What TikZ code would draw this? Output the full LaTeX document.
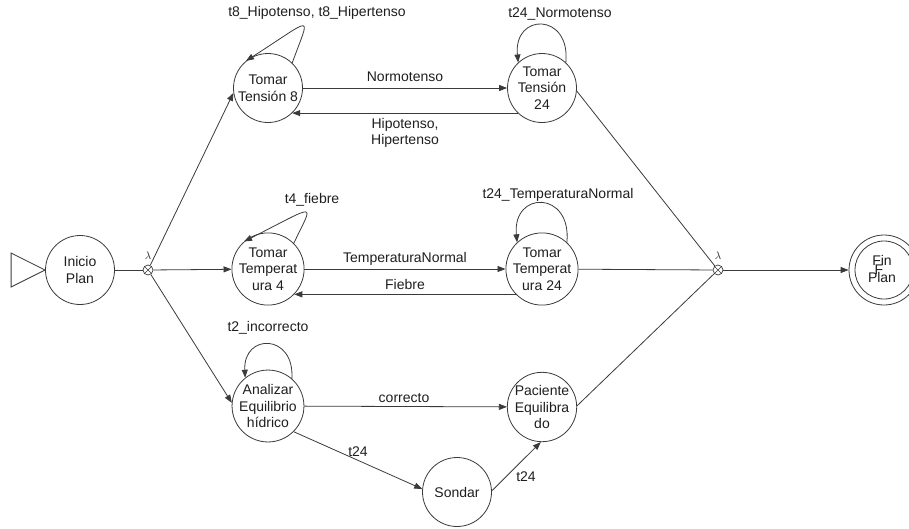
\documentclass[tikz,border=0pt]{standalone}
\usepackage{fontspec}
\setmainfont{Liberation Sans}
\usetikzlibrary{arrows.meta,calc}
\definecolor{linegray}{HTML}{3A3A3A}
\definecolor{inkgray}{HTML}{1E1E1E}
\newcommand\lbltxt{\fontsize{14}{16.5}\selectfont}

\begin{document}
\begin{tikzpicture}[x=1pt,y=-1pt,
  line/.style={draw=linegray,line width=0.8pt},
  arr/.style={line,-{Triangle[length=8pt,width=6pt]}},
  state/.style={circle,draw=linegray,line width=0.8pt,minimum size=69pt,
    inner sep=0pt,align=center,font=\lbltxt,text=inkgray},
  junc/.style={circle,draw=linegray,line width=0.7pt,minimum size=10pt,inner sep=0pt},
  lam/.style={font=\fontsize{11}{11}\selectfont,text=inkgray,inner sep=0pt},
  lbl/.style={font=\lbltxt,text=inkgray,align=center,inner sep=0pt}]
\useasboundingbox (0,0) rectangle (909,528);

% states
\node[state] (ini) at (80,270) {Inicio\\Plan};
\node[state] (t8) at (268,88) {Tomar\\Tensión 8};
\node[state] (t24) at (542,88) {Tomar\\Tensión\\24};
\node[state] (tp4) at (268,269) {Tomar\\Temperat\\ura 4};
\node[state] (tp24) at (542,269) {Tomar\\Temperat\\ura 24};
\node[state] (an) at (268,406) {Analizar\\Equilibrio\\hídrico};
\node[state] (pac) at (542,407) {Paciente\\Equilibra\\do};
\node[state] (son) at (457,492) {Sondar};
\node[state,minimum size=70pt] (fin) at (884,270) {};
\draw[line] (fin.center) circle[radius=29];
\node[lbl] (fintxt) at (882,269) {Fin\\Plan};
\node[lbl] (finmark) at (879,270) {F};

% start marker
\draw[line] (ini.west) -- ++(-34,-17) -- ++(0,34) -- cycle;

% junctions
\node[junc] (j1) at (148,270) {};
\draw[line,line width=0.6pt] (j1.45) -- (j1.225) (j1.135) -- (j1.315);
\node[lam] (l1) at (148,256) {$\lambda$};
\node[junc] (j2) at (718,270) {};
\draw[line,line width=0.6pt] (j2.45) -- (j2.225) (j2.135) -- (j2.315);
\node[lam] (l2) at (718,256) {$\lambda$};

% connectors
\draw[line] (ini) -- (j1);
\draw[arr] (j1) -- (t8.188);
\draw[arr] (j1) -- (tp4);
\draw[arr] (j1) -- (an.175);

\draw[arr] (t8) -- (t24);
\draw[arr] (t24.226) -- (t8.314);
\draw[arr] (tp4) -- (tp24);
\draw[arr] (tp24.224) -- (tp4.316);
\draw[arr] (an) -- (pac);
\draw[arr] (an.315) -- (son.175);
\draw[arr] (son.2) -- (pac.268);

\draw[line] (t24.355) -- (j2);
\draw[line] (tp24) -- (j2);
\draw[line] (pac.2) -- (j2);
\draw[arr] (j2) -- (fin);

% self loops
\draw[arr] (t8.46) .. controls +(18,-50) and +(70,-45) .. (t8.129);
\draw[arr] (tp4.45) .. controls +(20,-42) and +(75,-38) .. (tp4.131);
\draw[arr] (t24.47) .. controls +(5,-50) and +(-5,-50) .. (t24.133);
\draw[arr] (tp24.47) .. controls +(5,-52) and +(-5,-52) .. (tp24.133);
\draw[arr] (an.49) .. controls +(3,-45) and +(-2,-45) .. (an.129);

% labels
\node[lbl] (lb1) at (317,13) {t8\_Hipotenso, t8\_Hipertenso};
\node[lbl] (lb2) at (560,14) {t24\_Normotenso};
\node[lbl] (lb3) at (405,77) {Normotenso};
\node[lbl] (lb4) at (405,133) {Hipotenso,\\Hipertenso};
\node[lbl] (lb5) at (312,200) {t4\_fiebre};
\node[lbl] (lb6) at (558,195) {t24\_TemperaturaNormal};
\node[lbl] (lb7) at (405,259) {TemperaturaNormal};
\node[lbl] (lb8) at (405,284) {Fiebre};
\node[lbl] (lb9) at (268,328) {t2\_incorrecto};
\node[lbl] (lb10) at (404,398) {correcto};
\node[lbl] (lb11) at (358,452) {t24};
\node[lbl] (lb12) at (526,477) {t24};
\end{tikzpicture}
\end{document}
